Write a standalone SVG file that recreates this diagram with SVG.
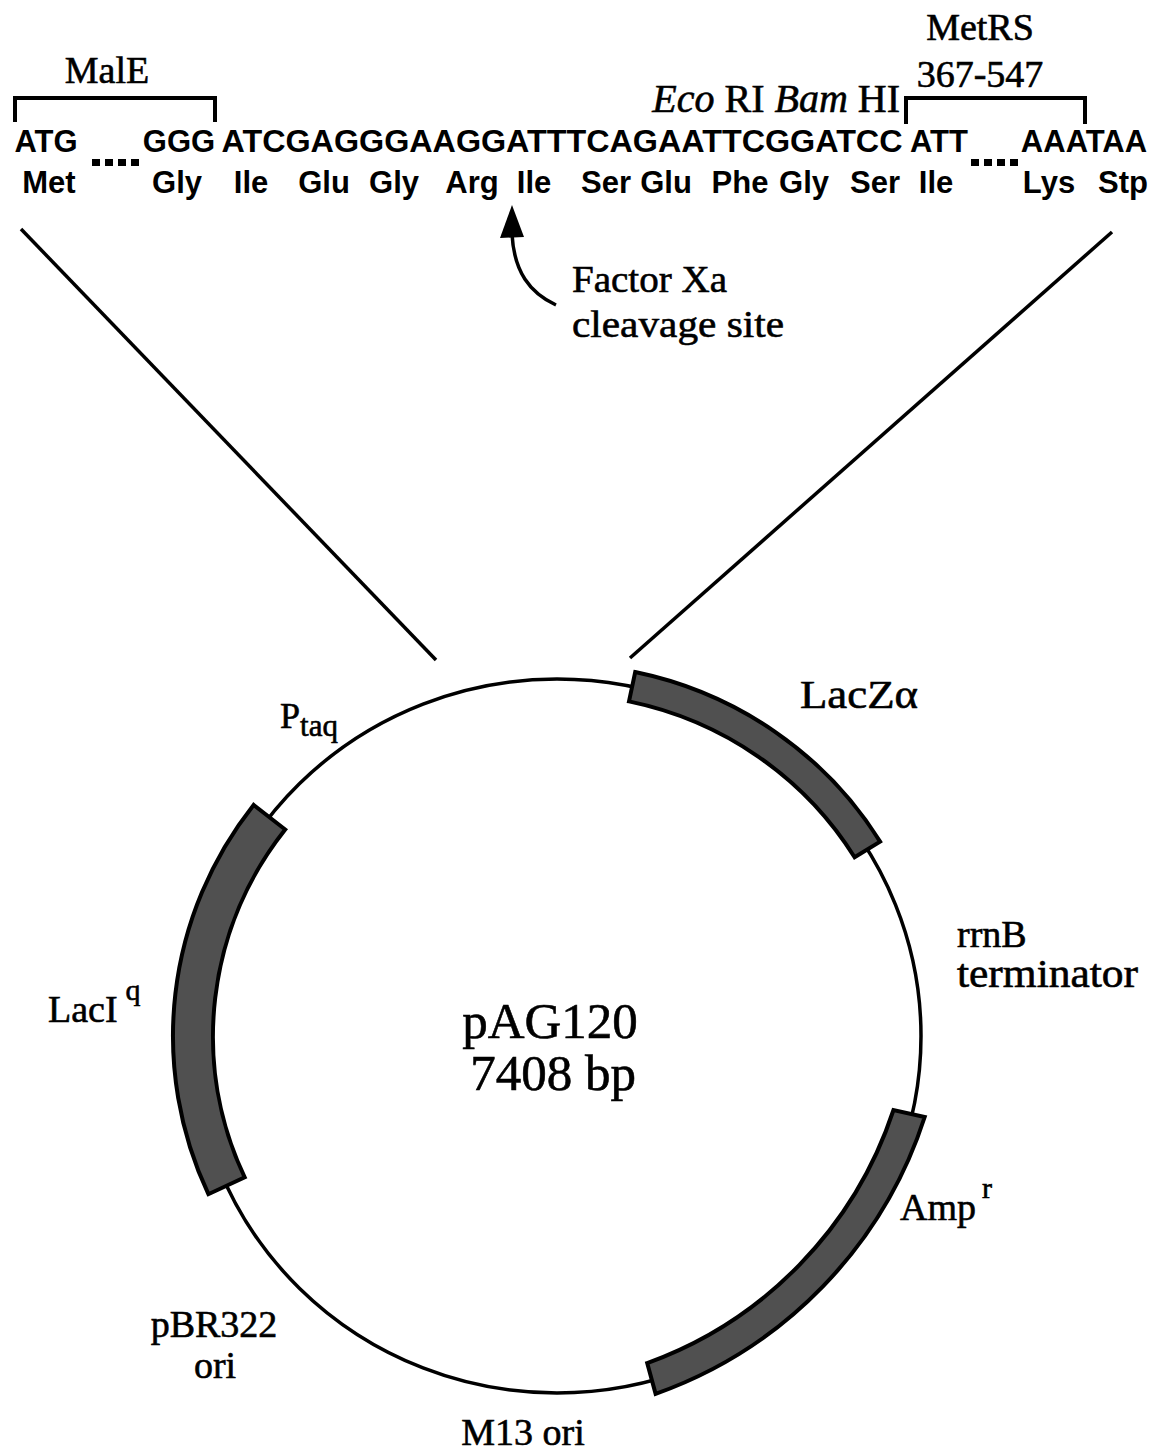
<svg xmlns="http://www.w3.org/2000/svg" width="1162" height="1451" viewBox="0 0 1162 1451">
<style>
.ser{font-family:"Liberation Serif","Times New Roman",serif;fill:#000;stroke:#000;stroke-width:0.6}
.seq{font-family:"Liberation Sans",Arial,sans-serif;font-weight:bold;font-size:31px;fill:#000;text-anchor:middle}
.ln{fill:none;stroke:#000;stroke-width:3.5}
.br{fill:none;stroke:#000;stroke-width:4}
.band{fill:#505050;stroke:#000;stroke-width:4;stroke-linejoin:miter}
</style>
<rect width="1162" height="1451" fill="#fff"/>
<g id="header">
  <g id="male">
    <text class="ser" x="107" y="83" font-size="38" text-anchor="middle">MalE</text>
    <path class="br" d="M15,122 V98 H215 V122"/>
  </g>
  <g id="metrs">
    <text class="ser" x="980" y="40" font-size="38" text-anchor="middle">MetRS</text>
    <text class="ser" x="980" y="87" font-size="38" text-anchor="middle">367-547</text>
    <path class="br" d="M906,124 V98 H1085 V124"/>
  </g>
  <g id="sites">
    <text class="ser" x="900" y="112" font-size="40" text-anchor="end"><tspan font-style="italic">Eco</tspan> RI <tspan font-style="italic">Bam</tspan> HI</text>
  </g>
  <g id="dna">
    <text class="seq" x="46" y="152">ATG</text>
    <text class="seq" x="179" y="152">GGG</text>
    <text class="seq" x="562" y="152" textLength="681" lengthAdjust="spacingAndGlyphs">ATCGAGGGAAGGATTTCAGAATTCGGATCC</text>
    <text class="seq" x="939" y="152">ATT</text>
    <text class="seq" x="1084" y="152">AAATAA</text>
    <g fill="#000">
      <rect x="92" y="159" width="8" height="7"/><rect x="105" y="159" width="8" height="7"/><rect x="118" y="159" width="8" height="7"/><rect x="131" y="159" width="8" height="7"/>
      <rect x="971" y="159" width="8" height="7"/><rect x="984" y="159" width="8" height="7"/><rect x="997" y="159" width="8" height="7"/><rect x="1010" y="159" width="8" height="7"/>
    </g>
  </g>
  <g id="protein">
    <text class="seq" x="49" y="193">Met</text>
    <text class="seq" x="177" y="193">Gly</text>
    <text class="seq" x="251" y="193">Ile</text>
    <text class="seq" x="324" y="193">Glu</text>
    <text class="seq" x="394" y="193">Gly</text>
    <text class="seq" x="472" y="193">Arg</text>
    <text class="seq" x="534" y="193">Ile</text>
    <text class="seq" x="606" y="193">Ser</text>
    <text class="seq" x="666" y="193">Glu</text>
    <text class="seq" x="740" y="193">Phe</text>
    <text class="seq" x="804" y="193">Gly</text>
    <text class="seq" x="875" y="193">Ser</text>
    <text class="seq" x="936" y="193">Ile</text>
    <text class="seq" x="1049" y="193">Lys</text>
    <text class="seq" x="1123" y="193">Stp</text>
  </g>
  <g id="factorxa">
    <text class="ser" x="572" y="292" font-size="38" textLength="155" lengthAdjust="spacingAndGlyphs">Factor Xa</text>
    <text class="ser" x="572" y="337" font-size="38" textLength="212" lengthAdjust="spacingAndGlyphs">cleavage site</text>
  </g>
</g>
<g id="connectors">
  <path class="ln" d="M556,305 C530,293 514,272 512,234" stroke-width="4"/>
  <polygon points="512,205 500,238 524,237" fill="#000"/>
  <line class="ln" x1="21" y1="229" x2="436" y2="660"/>
  <line class="ln" x1="1112" y1="232" x2="630" y2="658"/>
</g>
<g id="plasmid">
  <ellipse cx="557" cy="1036" rx="364" ry="357" fill="none" stroke="#000" stroke-width="3.5"/>
  <g id="lacz"><path class="band" d="M635.2,672.0 A379,372 0 0 1 880.1,841.6 L854.6,857.3 A349,342 0 0 0 629.0,701.4 Z"/></g>
  <g id="laci"><path class="band" d="M253.6,804.9 A384,377 0 0 0 208.4,1194.2 L244.7,1177.4 A344,337 0 0 1 285.2,829.5 Z"/></g>
  <g id="amp"><path class="band" d="M924.7,1117.0 A436,436 0 0 1 655.6,1393.9 L647.2,1363.1 A404,404 0 0 0 893.5,1110.0 Z"/></g>
  <g id="labels">
    <text class="ser" x="280" y="728" font-size="36">P<tspan font-size="31" dy="8">taq</tspan></text>
    <text class="ser" x="800" y="708" font-size="39" textLength="118" lengthAdjust="spacingAndGlyphs">LacZα</text>
    <text class="ser" x="957" y="947" font-size="38">rrnB</text>
    <text class="ser" x="957" y="987" font-size="39" textLength="181" lengthAdjust="spacingAndGlyphs">terminator</text>
    <text class="ser" x="48" y="1022" font-size="38">LacI<tspan font-size="30" dx="8" dy="-22">q</tspan></text>
    <text class="ser" x="550" y="1038" font-size="51" text-anchor="middle">pAG120</text>
    <text class="ser" x="553" y="1090" font-size="51" text-anchor="middle">7408 bp</text>
    <text class="ser" x="900" y="1220" font-size="38">Amp<tspan font-size="30" dx="6" dy="-22">r</tspan></text>
    <text class="ser" x="214" y="1337" font-size="38" text-anchor="middle">pBR322</text>
    <text class="ser" x="215" y="1378" font-size="38" text-anchor="middle">ori</text>
    <text class="ser" x="523" y="1445" font-size="38" text-anchor="middle">M13 ori</text>
  </g>
</g>
</svg>
